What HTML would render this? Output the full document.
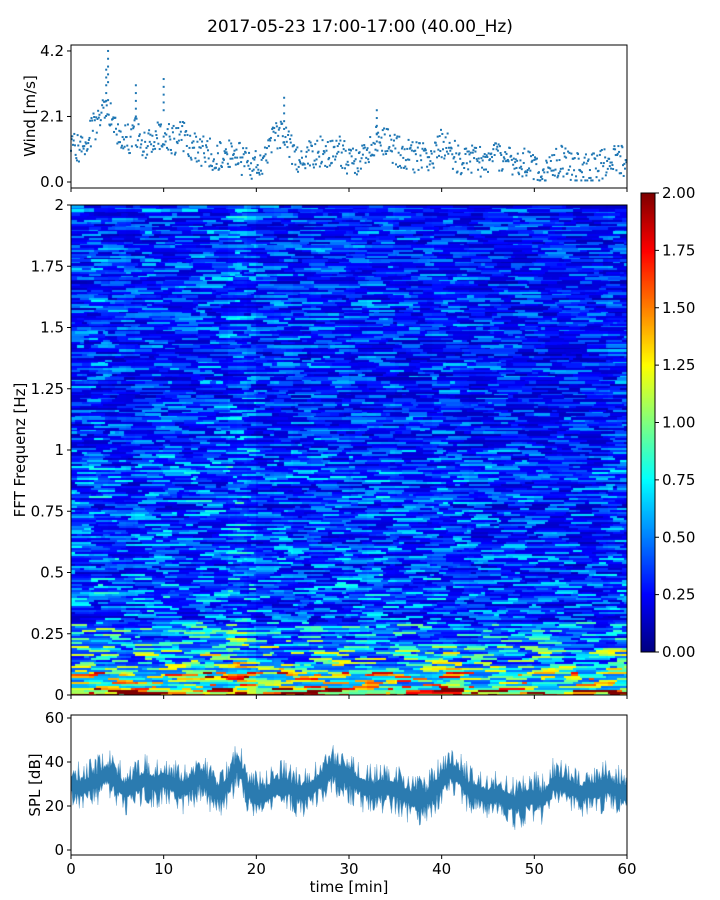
<!DOCTYPE html>
<html><head><meta charset="utf-8">
<style>
body{margin:0;background:#fff;width:720px;height:900px;overflow:hidden;font-family:"DejaVu Sans","Liberation Sans",sans-serif;}
#root{position:relative;width:720px;height:900px;}
svg text{font-family:"DejaVu Sans","Liberation Sans",sans-serif;fill:#000;}
canvas{position:absolute;}
</style></head>
<body>
<div id="root">
<canvas id="spec" width="556" height="490" style="left:71px;top:205px"></canvas>
<canvas id="cbar" width="14" height="459" style="left:641px;top:193px"></canvas>
<svg id="svg" width="720" height="900" style="position:absolute;left:0;top:0"></svg>
</div>
<script>
// ---- data ----
const minutes=[0,1,2,3,4,5,6,7,8,9,10,11,12,13,14,15,16,17,18,19,20,21,22,23,24,25,26,27,28,29,30,31,32,33,34,35,36,37,38,39,40,41,42,43,44,45,46,47,48,49,50,51,52,53,54,55,56,57,58,59,60];
const windValues=[1.5,1.0,1.5,2.0,2.3,1.5,1.3,1.6,1.2,1.5,1.5,1.3,1.5,1.2,1.0,0.9,0.8,0.9,0.8,0.6,0.5,0.9,1.4,1.6,0.9,0.7,0.9,1.0,0.9,1.0,0.7,0.6,1.0,1.4,1.3,1.0,0.9,0.8,0.8,0.9,1.2,1.0,0.6,0.7,0.6,0.8,0.9,0.7,0.6,0.6,0.5,0.4,0.5,0.7,0.5,0.4,0.4,0.5,0.6,0.7,0.6];
const windPeaks=[[4,4.2],[3.8,3.6],[10,3.3],[7,3.1],[23,2.7],[33,2.3]];
const splValues=[30,28,30,32,35,30,27,30,32,30,32,30,28,30,33,28,26,30,40,28,24,25,28,30,27,26,28,32,37,35,33,30,28,27,29,27,25,23,22,26,32,36,33,27,26,24,25,23,21,23,24,23,30,30,28,26,27,28,29,27,25];
const freqBandEdges=[0,0.03,0.1,0.2,0.3,0.5,1.0,2.0];
const freqBandLevels=[1.5,0.95,0.7,0.55,0.42,0.38,0.33];
const timeFactors=[1.0,1.0,1.05,1.05,1.0,1.0,0.95,1.0,1.0,1.0,1.0,1.0,1.0,1.0,1.05,1.05,1.05,1.15,1.2,1.1,0.95,0.95,1.0,1.0,0.95,0.95,1.0,1.0,1.0,1.0,0.95,0.95,1.0,1.0,1.0,0.95,0.95,0.95,0.95,1.0,1.0,1.0,0.95,0.9,0.9,0.9,0.9,0.9,0.9,0.9,0.9,0.9,0.9,0.9,0.9,0.9,0.9,0.9,0.95,0.95];
const windTicks=[0.0,2.1,4.2];
const freqTicks=[0,0.25,0.5,0.75,1,1.25,1.5,1.75,2];
const freqTickLabels=["0","0.25","0.5","0.75","1","1.25","1.5","1.75","2"];
const splTicks=[0,20,40,60];
const timeTicks=[0,10,20,30,40,50,60];
const cbTicks=[0,0.25,0.5,0.75,1,1.25,1.5,1.75,2];

// ---- axes ----
const X0=71,X1=627;
const xs=t=>X0+(X1-X0)*t/60;
const yWind=v=>182-v*31.2;
const yFreq=f=>695-f*245;
const ySpl=v=>850-v*2.2;
const yCb=v=>652-v*229.5;

function hash(a,b){let h=(a*374761393+b*668265263)|0;h=(h^(h>>>13))*1274126177|0;h=h^(h>>>16);return ((h>>>0)%10000)/10000;}
function jet(v){v=Math.max(0,Math.min(1,v));
 const r=Math.max(0,Math.min(1,1.5-Math.abs(4*v-3)));
 const g=Math.max(0,Math.min(1,1.5-Math.abs(4*v-2)));
 const b=Math.max(0,Math.min(1,1.5-Math.abs(4*v-1)));
 return [r*255|0,g*255|0,b*255|0];}

// spectrogram
const sc=document.getElementById('spec').getContext('2d');
const nT=240,nF=245;
for(let j=0;j<nF;j++){
 const f=(j+0.5)*2/nF;let k=0;while(k<freqBandLevels.length-1&&f>freqBandEdges[k+1])k++;
 const rowv=hash(j,999);
 let seg=0,segLen=0,n=0;
 for(let i=0;i<nT;i++){
  if(segLen<=0){seg++;segLen=2+Math.floor(hash(j,seg+3000)*10);n=hash(j*31+seg,i+77);}
  segLen--;
  const tm=i/4;const tf=timeFactors[Math.min(59,Math.floor(tm))];
  const base=freqBandLevels[k]*tf;
  const v=base*(0.3+1.5*n*n+0.35*rowv);
  const c=jet(v/2);
  sc.fillStyle=`rgb(${c[0]},${c[1]},${c[2]})`;
  const x=xs(tm)-X0, y=yFreq(f+1/nF)-205;
  sc.fillRect(Math.floor(x),Math.floor(y),Math.ceil(556/nT)+1,3);
 }
}
// colorbar
const cc=document.getElementById('cbar').getContext('2d');
for(let y=0;y<459;y++){const c=jet(1-y/459);cc.fillStyle=`rgb(${c[0]},${c[1]},${c[2]})`;cc.fillRect(0,y,14,1);}

const svg=document.getElementById('svg');const NS='http://www.w3.org/2000/svg';
function el(tag,attrs,parent){const e=document.createElementNS(NS,tag);for(const k in attrs)e.setAttribute(k,attrs[k]);(parent||svg).appendChild(e);return e;}
function txt(x,y,s,anchor,size,extra){const t=el('text',Object.assign({x:x,y:y,'text-anchor':anchor||'middle','font-size':size||15},extra||{}));t.textContent=s;return t;}

// title
const title=txt(360,32,'2017-05-23 17:00-17:00 (40.00_Hz)','middle',17);



// wind panel
const wg=el('g',{});


for(let i=0;i<minutes.length-1;i++){
 for(let s=0;s<14;s++){
  const frac=s/14;const t=minutes[i]+frac;
  const base=windValues[i]+(windValues[i+1]-windValues[i])*frac;
  const v=Math.max(0.05,base+(hash(i,s)-0.5)*1.0);
  const d=el('rect',{x:xs(t)-1,y:yWind(v)-1,width:2,height:2,fill:'#1f77b4'},wg);
  
  
 }
}
windPeaks.forEach(p=>{for(let k=0;k<5;k++){const v=p[1]-k*0.25;const d=el('rect',{x:xs(p[0])-1,y:yWind(v)-1,width:2,height:2,fill:'#1f77b4'},wg);
 
 }});
const wf=el('rect',{x:X0,y:45,width:X1-X0,height:143,fill:'none',stroke:'#000','stroke-width':1});


windTicks.forEach(v=>{el('line',{x1:X0-4,x2:X0,y1:yWind(v),y2:yWind(v),stroke:'#000'});txt(X0-7,yWind(v)+5,v.toFixed(1),'end');});
timeTicks.forEach(t=>el('line',{x1:xs(t),x2:xs(t),y1:188,y2:192,stroke:'#000'}));
const wl=txt(0,0,'Wind [m/s]','middle',15,{transform:'translate(35,116) rotate(-90)'});



// spectrogram axes
const sf=el('rect',{x:X0,y:205,width:X1-X0,height:490,fill:'none',stroke:'#000'});


freqTicks.forEach((f,i)=>{el('line',{x1:X0-4,x2:X0,y1:yFreq(f),y2:yFreq(f),stroke:'#000'});txt(X0-7,yFreq(f)+5,freqTickLabels[i],'end');});
timeTicks.forEach(t=>el('line',{x1:xs(t),x2:xs(t),y1:695,y2:699,stroke:'#000'}));
const fl=txt(0,0,'FFT Frequenz [Hz]','middle',15,{transform:'translate(25,450) rotate(-90)'});



// colorbar ticks
el('rect',{x:641,y:193,width:14,height:459,fill:'none',stroke:'#000'});
cbTicks.forEach(v=>{el('line',{x1:655,x2:659,y1:yCb(v),y2:yCb(v),stroke:'#000'});txt(662,yCb(v)+5,v.toFixed(2),'start');});

// SPL panel
let up='',dn='';
const pts=[];
for(let i=0;i<minutes.length-1;i++){for(let s=0;s<10;s++){const fr=s/10;const t=minutes[i]+fr;const v=splValues[i]+(splValues[i+1]-splValues[i])*fr;pts.push([t,v,hash(i,s+50)]);}}
pts.push([60,splValues[60],0.5]);
pts.forEach((p,i)=>{up+=(i?'L':'M')+xs(p[0]).toFixed(1)+','+ySpl(p[1]+3+p[2]*p[2]*9).toFixed(1);});
for(let i=pts.length-1;i>=0;i--){const p=pts[i];const h=hash(i,7);dn+='L'+xs(p[0]).toFixed(1)+','+ySpl(p[1]-3-h*h*9).toFixed(1);}
const band=el('path',{d:up+dn+'Z',fill:'#2b7bb0',stroke:'#6ea8d0','stroke-width':0.5});


const pf=el('rect',{x:X0,y:715,width:X1-X0,height:140,fill:'none',stroke:'#000'});


splTicks.forEach(v=>{el('line',{x1:X0-4,x2:X0,y1:ySpl(v),y2:ySpl(v),stroke:'#000'});txt(X0-7,ySpl(v)+5,String(v),'end');});
timeTicks.forEach(t=>{el('line',{x1:xs(t),x2:xs(t),y1:855,y2:859,stroke:'#000'});txt(xs(t),874,String(t),'middle');});
const sl=txt(0,0,'SPL [dB]','middle',15,{transform:'translate(40,785) rotate(-90)'});


const xl=txt(349,892,'time [min]','middle',15);


</script>
</body></html>
